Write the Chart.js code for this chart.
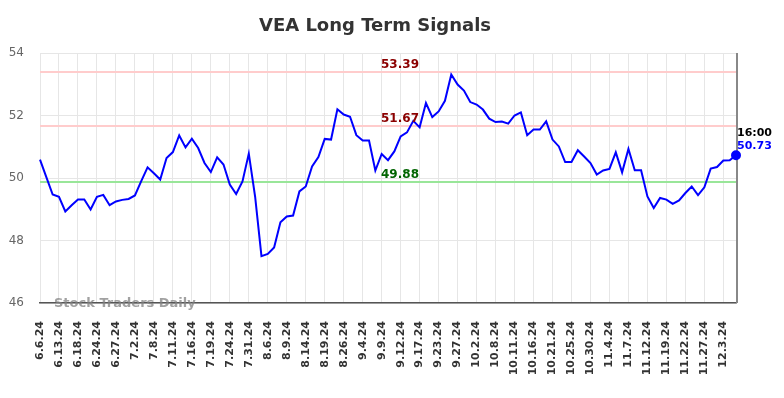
<!DOCTYPE html>
<html>
<head>
<meta charset="utf-8">
<script src="https://cdn.jsdelivr.net/npm/chart.js@4.4.1/dist/chart.umd.min.js"></script>
<style>
  html, body { margin: 0; padding: 0; background: #fff; }
  canvas { display: block; }
</style>
</head>
<body>
<canvas id="chart" width="784" height="398"></canvas>
<script>
// trading days shown on the chart (every 3rd one gets a tick label)
const dates = [
  '6.6.24', '6.7.24', '6.11.24', '6.13.24', '6.14.24', '6.17.24', '6.18.24', '6.20.24', '6.21.24', '6.24.24',
  '6.25.24', '6.26.24', '6.27.24', '6.28.24', '7.1.24', '7.2.24', '7.3.24', '7.5.24', '7.8.24', '7.9.24',
  '7.10.24', '7.11.24', '7.12.24', '7.15.24', '7.16.24', '7.17.24', '7.18.24', '7.19.24', '7.22.24', '7.23.24',
  '7.24.24', '7.26.24', '7.29.24', '7.31.24', '8.2.24', '8.5.24', '8.6.24', '8.7.24', '8.8.24', '8.9.24',
  '8.12.24', '8.13.24', '8.14.24', '8.15.24', '8.16.24', '8.19.24', '8.21.24', '8.23.24', '8.26.24', '8.28.24',
  '8.30.24', '9.4.24', '9.5.24', '9.6.24', '9.9.24', '9.10.24', '9.11.24', '9.12.24', '9.13.24', '9.16.24',
  '9.17.24', '9.18.24', '9.20.24', '9.23.24', '9.25.24', '9.26.24', '9.27.24', '9.30.24', '10.1.24', '10.2.24',
  '10.4.24', '10.7.24', '10.8.24', '10.9.24', '10.10.24', '10.11.24', '10.14.24', '10.15.24', '10.16.24', '10.17.24',
  '10.18.24', '10.21.24', '10.23.24', '10.24.24', '10.25.24', '10.28.24', '10.29.24', '10.30.24', '10.31.24', '11.1.24',
  '11.4.24', '11.5.24', '11.6.24', '11.7.24', '11.8.24', '11.11.24', '11.12.24', '11.14.24', '11.18.24', '11.19.24',
  '11.20.24', '11.21.24', '11.22.24', '11.25.24', '11.26.24', '11.27.24', '11.29.24', '12.2.24', '12.3.24', '12.4.24',
  '12.5.24',
];

const closes = [
  50.59, 50.03, 49.47, 49.40, 48.93, 49.13, 49.31, 49.31, 48.99, 49.40,
  49.46, 49.13, 49.25, 49.30, 49.33, 49.44, 49.90, 50.34, 50.15, 49.95,
  50.64, 50.83, 51.36, 50.98, 51.26, 50.96, 50.48, 50.19, 50.66, 50.43,
  49.79, 49.49, 49.89, 50.78, 49.40, 47.50, 47.57, 47.78, 48.58, 48.77,
  48.80, 49.57, 49.73, 50.37, 50.67, 51.25, 51.23, 52.20, 52.03, 51.96,
  51.37, 51.20, 51.20, 50.24, 50.77, 50.57, 50.85, 51.33, 51.46, 51.83,
  51.62, 52.40, 51.95, 52.13, 52.47, 53.31, 52.99, 52.80, 52.43, 52.35,
  52.19, 51.90, 51.79, 51.81, 51.74, 52.00, 52.10, 51.37, 51.55, 51.55,
  51.81, 51.23, 51.01, 50.51, 50.51, 50.89, 50.69, 50.48, 50.11, 50.24,
  50.29, 50.82, 50.18, 50.93, 50.25, 50.25, 49.41, 49.04, 49.36, 49.31,
  49.17, 49.28, 49.52, 49.73, 49.45, 49.70, 50.30, 50.35, 50.56, 50.57,
  50.73,
];

// signal levels: two resistance (red) and one support (green)
const levels = [53.39, 51.67, 49.88];
const levelLineColors = ['#ffcccc', '#ffcccc', '#99e699'];
const levelTextColors = ['#8b0000', '#8b0000', '#006400'];

const yMin = 46;
const yMax = 54;
const yStep = 2;
const labelEvery = 3;
const lastTime = '16:00';
const title = 'VEA Long Term Signals';
const watermark = 'Stock Traders Daily';

const FONT = "'DejaVu Sans', sans-serif";
const last = closes.length - 1;

const overlay = {
  id: 'overlay',
  beforeDatasetsDraw(chart) {
    const { ctx, chartArea: area, scales: { x, y } } = chart;
    ctx.save();
    ctx.lineWidth = 2;
    levels.forEach((v, i) => {
      const py = Math.round(y.getPixelForValue(v));
      ctx.strokeStyle = levelLineColors[i];
      ctx.beginPath();
      ctx.moveTo(area.left, py);
      ctx.lineTo(area.right, py);
      ctx.stroke();
    });

    // marker for the latest session
    const lx = x.getPixelForValue(last) + 1;
    ctx.strokeStyle = '#888';
    ctx.beginPath();
    ctx.moveTo(lx, area.top);
    ctx.lineTo(lx, area.bottom);
    ctx.stroke();
    ctx.restore();
  },
  afterDraw(chart) {
    const { ctx, chartArea: area, scales: { x, y } } = chart;
    ctx.save();

    ctx.font = `bold 18px ${FONT}`;
    ctx.fillStyle = '#333';
    ctx.textAlign = 'center';
    ctx.textBaseline = 'middle';
    ctx.fillText(title, 375, 26);

    ctx.font = `bold 12px ${FONT}`;
    ctx.textBaseline = 'alphabetic';
    levels.forEach((v, i) => {
      ctx.fillStyle = levelTextColors[i];
      ctx.fillText(v.toFixed(2), 400, y.getPixelForValue(v) - 4);
    });

    ctx.font = `bold 13px ${FONT}`;
    ctx.fillStyle = 'rgba(130,130,130,0.75)';
    ctx.textAlign = 'left';
    ctx.fillText(watermark, 54, 307);

    const lx = x.getPixelForValue(last);
    const ly = y.getPixelForValue(closes[last]);
    ctx.font = `bold 11px ${FONT}`;
    ctx.fillStyle = '#000';
    ctx.fillText(lastTime, lx + 1, ly - 19);
    ctx.fillStyle = '#0000ff';
    ctx.fillText(closes[last].toFixed(2), lx + 1, ly - 6);
    ctx.restore();
  },
};

new Chart(document.getElementById('chart'), {
  type: 'line',
  data: {
    labels: dates,
    datasets: [{
      data: closes,
      borderColor: '#0000ff',
      backgroundColor: '#0000ff',
      borderWidth: 2,
      tension: 0,
      pointRadius: ctx => (ctx.dataIndex === last ? 4 : 0),
      pointHoverRadius: 0,
    }],
  },
  options: {
    responsive: false,
    animation: false,
    devicePixelRatio: 1,
    layout: {
      padding: { left: 0, right: 48, top: 53, bottom: 0 },
    },
    plugins: {
      legend: { display: false },
      title: { display: false },
      tooltip: { enabled: false },
    },
    scales: {
      x: {
        type: 'category',
        offset: false,
        afterFit: scale => { scale.height = 95; },
        grid: {
          color: ctx => (ctx.index % labelEvery === 0 ? '#e6e6e6' : 'rgba(0,0,0,0)'),
          drawTicks: false,
        },
        border: { color: '#555', width: 1.5 },
        ticks: {
          autoSkip: false,
          minRotation: 90,
          maxRotation: 90,
          padding: 18,
          color: '#333',
          font: { family: FONT, size: 11, weight: 'bold' },
          callback: (value, index) => (index % labelEvery === 0 ? dates[index] : ''),
        },
      },
      y: {
        min: yMin,
        max: yMax,
        afterFit: scale => { scale.width = 40; },
        grid: { color: '#e6e6e6', drawTicks: false },
        border: { display: false },
        ticks: {
          stepSize: yStep,
          padding: 16,
          color: '#666',
          font: { family: FONT, size: 12 },
        },
      },
    },
  },
  plugins: [overlay],
});
</script>
</body>
</html>
